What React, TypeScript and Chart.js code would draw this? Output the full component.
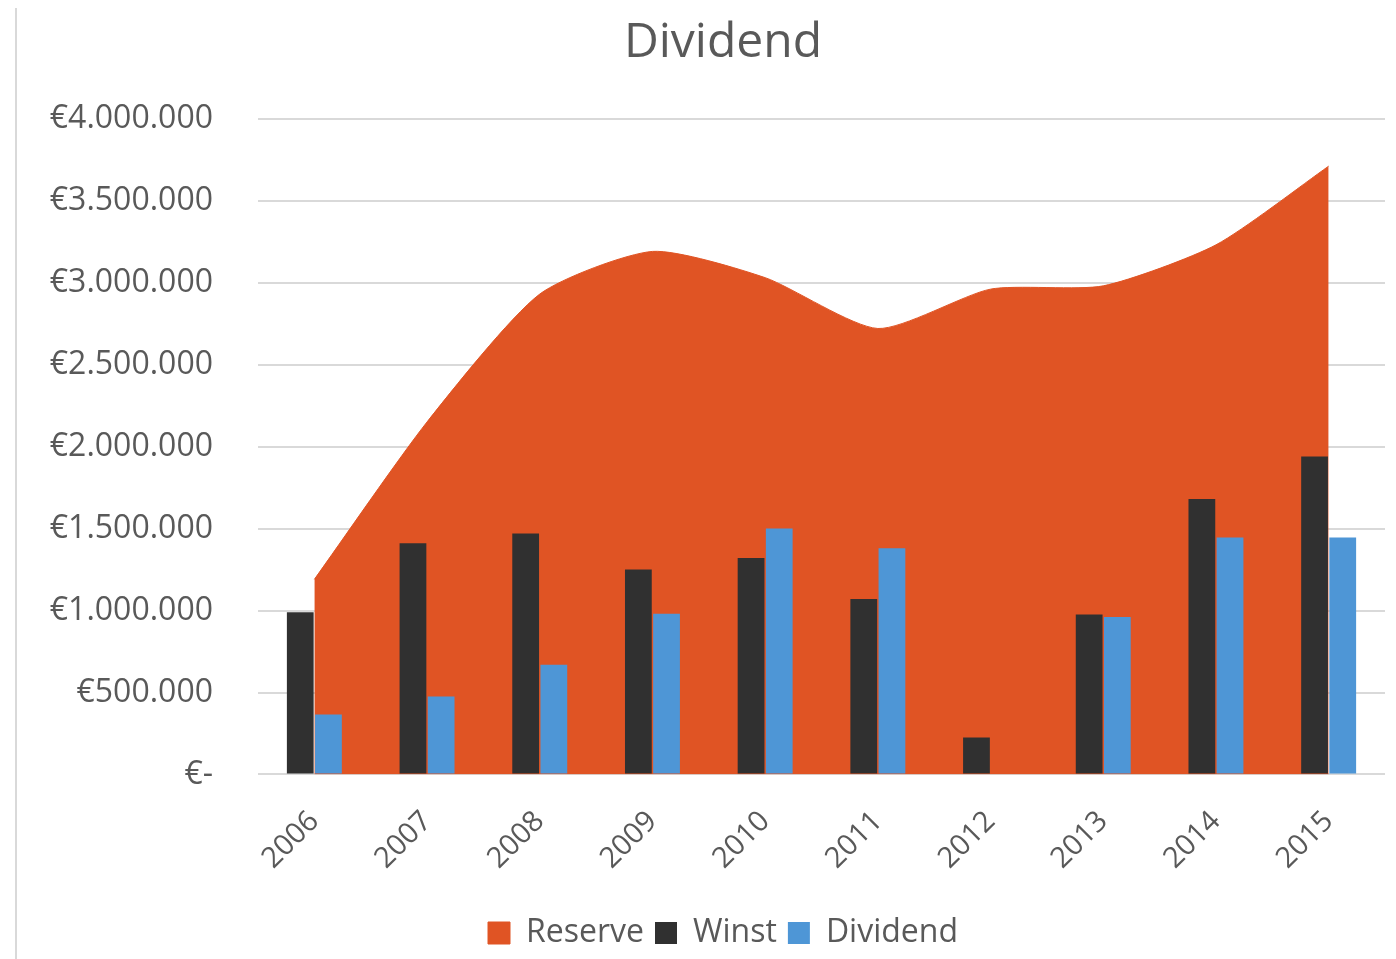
import React, { useEffect, useRef } from "react";
import { Chart, registerables } from "chart.js";

Chart.register(...registerables);

const years = ["2006", "2007", "2008", "2009", "2010", "2011", "2012", "2013", "2014", "2015"];
const reserve = [1190000, 2150000, 2930000, 3190000, 3030000, 2720000, 2960000, 2980000, 3230000, 3710000];
const winst = [990000, 1410000, 1470000, 1250000, 1320000, 1070000, 225000, 975000, 1680000, 1940000];
const dividend = [366000, 475000, 670000, 980000, 1500000, 1380000, 0, 960000, 1445000, 1445000];
const yTicks = [0, 500000, 1000000, 1500000, 2000000, 2500000, 3000000, 3500000, 4000000];

const FONT = "'Open Sans', 'Liberation Sans', sans-serif";
const TEXT = "#595959";

function fmtEuro(v: number): string {
  if (v === 0) return "€-";
  return "€" + String(Math.round(v)).replace(/\B(?=(\d{3})+(?!\d))/g, ".");
}

export default function App() {
  const ref = useRef<HTMLCanvasElement | null>(null);

  useEffect(() => {
    document.body.style.overflow = "hidden";
    if (!ref.current) return;
    const chart = new Chart(ref.current, {
      type: "bar",
      data: {
        labels: years,
        datasets: [
          {
            type: "line",
            label: "Reserve",
            data: reserve,
            backgroundColor: "#E05424",
            borderColor: "#E05424",
            borderWidth: 1,
            fill: "origin",
            tension: 0.22,
            pointRadius: 0,
            order: 2,
          } as any,
          {
            type: "bar",
            label: "Winst",
            data: winst,
            backgroundColor: "#303030",
            borderWidth: 0,
            categoryPercentage: 0.5,
            barPercentage: 0.95,
            order: 1,
          },
          {
            type: "bar",
            label: "Dividend",
            data: dividend,
            backgroundColor: "#4E96D6",
            borderWidth: 0,
            categoryPercentage: 0.5,
            barPercentage: 0.95,
            order: 1,
          },
        ],
      },
      options: {
        animation: false,
        responsive: true,
        maintainAspectRatio: false,
        layout: { padding: 0 },
        plugins: {
          title: {
            display: true,
            text: "Dividend",
            color: TEXT,
            font: { family: FONT, size: 48, weight: "normal" },
            padding: { top: 7, bottom: 46 },
          },
          legend: {
            position: "bottom",
            labels: {
              color: TEXT,
              font: { family: FONT, size: 32 },
              boxWidth: 22,
              boxHeight: 22,
              padding: 11,
              sort: (a: any, b: any) => a.datasetIndex - b.datasetIndex,
            },
          },
          tooltip: { enabled: false },
        },
        scales: {
          x: {
            grid: { display: false, drawTicks: false },
            border: { display: false },
            ticks: {
              color: TEXT,
              font: { family: FONT, size: 29 },
              minRotation: 45,
              maxRotation: 45,
              padding: 30,
            },
          },
          y: {
            min: 0,
            max: 4000000,
            afterBuildTicks: (scale: any) => {
              scale.ticks = yTicks.map((v) => ({ value: v }));
            },
            afterFit: (scale: any) => {
              scale.width = 250;
            },
            grid: { color: "#D9D9D9", lineWidth: 2, drawTicks: false },
            border: { display: false },
            ticks: {
              color: TEXT,
              font: { family: FONT, size: 32 },
              padding: 45,
              callback: (v: any) => fmtEuro(Number(v)),
            },
          },
          yRight: {
            position: "right",
            display: true,
            min: 0,
            max: 4000000,
            grid: { display: false, drawTicks: false },
            border: { display: false },
            ticks: { display: false },
            afterFit: (scale: any) => {
              scale.width = 53;
            },
          },
        },
      },
    });
    return () => chart.destroy();
  }, []);

  return (
    <div style={{ position: "relative", width: 1430, height: 951 }}>
      <div
        style={{
          position: "absolute",
          left: 7,
          top: -8,
          bottom: -8,
          width: 2,
          background: "#D9D9D9",
        }}
      />
      <canvas ref={ref} />
    </div>
  );
}
